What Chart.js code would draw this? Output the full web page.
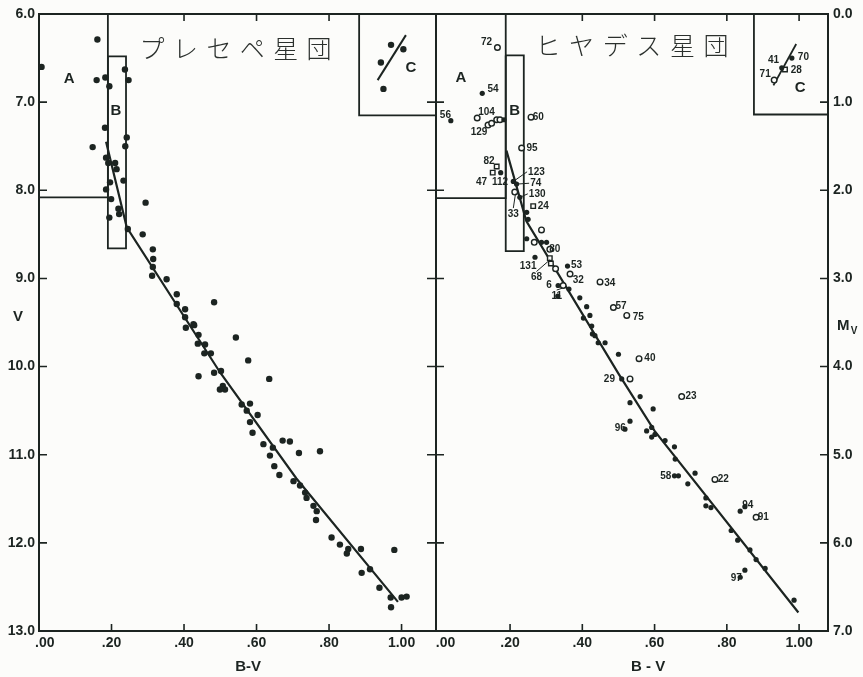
<!DOCTYPE html>
<html><head><meta charset="utf-8">
<script src="https://cdn.jsdelivr.net/npm/chart.js@4.4.1/dist/chart.umd.min.js"></script>
<style>
html,body{margin:0;padding:0;background:#fcfcfa;}
#wrap{position:relative;width:863px;height:677px;overflow:hidden;}
canvas{position:absolute;left:0;top:0;}
</style></head><body>
<div id="wrap"><canvas id="c1" width="863" height="677"></canvas><canvas id="c2" width="863" height="677"></canvas></div>
<script>
// ---------- tick values / labels ----------
const bvTicks = [0, 0.2, 0.4, 0.6, 0.8, 1.0];
const bvTickLabels = ['.00', '.20', '.40', '.60', '.80', '1.00'];
const vTicks = [6, 7, 8, 9, 10, 11, 12, 13];
const mvTicks = [0, 1, 2, 3, 4, 5, 6, 7];
const titlePraesepe = 'プレセペ星団';
const titleHyades = 'ヒヤデス星団';

// ---------- Praesepe (V vs B-V) ----------
const praesepeStars = [
  [0.161,6.29],[0.007,6.60],[0.159,6.75],[0.183,6.72],[0.194,6.82],[0.237,6.63],[0.247,6.75],
  [0.182,7.29],[0.242,7.40],[0.238,7.50],[0.148,7.51],[0.185,7.63],[0.191,7.69],[0.210,7.69],
  [0.214,7.76],[0.233,7.89],[0.185,7.99],[0.196,7.91],[0.199,8.10],[0.219,8.21],[0.221,8.27],
  [0.194,8.31],[0.294,8.14],[0.245,8.44],[0.286,8.50],[0.314,8.67],[0.315,8.78],[0.314,8.87],
  [0.312,8.97],[0.352,9.01],[0.380,9.18],[0.380,9.29],[0.403,9.35],[0.403,9.44],[0.426,9.52],
  [0.405,9.56],[0.483,9.27],[0.543,9.67],[0.428,9.53],[0.440,9.64],[0.438,9.74],[0.458,9.75],
  [0.456,9.85],[0.474,9.85],[0.577,9.93],[0.440,10.11],[0.483,10.07],[0.502,10.05],[0.635,10.14],
  [0.507,10.22],[0.513,10.26],[0.499,10.26],[0.559,10.43],[0.582,10.42],[0.573,10.50],[0.603,10.55],
  [0.582,10.63],[0.589,10.75],[0.619,10.88],[0.645,10.92],[0.637,11.01],[0.672,10.84],[0.692,10.85],
  [0.717,10.98],[0.775,10.96],[0.649,11.13],[0.663,11.23],[0.702,11.30],[0.720,11.35],[0.734,11.43],
  [0.738,11.49],[0.757,11.58],[0.766,11.64],[0.764,11.74],[0.807,11.94],[0.830,12.02],[0.853,12.07],
  [0.849,12.12],[0.888,12.07],[0.890,12.34],[0.913,12.30],[0.939,12.51],[0.970,12.62],[0.971,12.73],
  [1.000,12.62],[1.014,12.61],[0.980,12.08]
];
const praesepeCStars = [[0.971,6.35],[1.005,6.40],[0.943,6.55],[0.950,6.85]];
const praesepeCLine = [[1.012,6.24],[0.934,6.75]];
const praesepeZAMS = [[0.185,7.45],[0.242,8.42],[0.50,10.07],[0.71,11.27],[0.99,12.67]];
const praesepeRegionA = [[0,8.08],[0.19,8.08],[0.19,6.0]];
const praesepeRegionB = [[0.19,6.48],[0.24,6.48],[0.24,8.66],[0.19,8.66],[0.19,6.48]];
const praesepeRegionC = [[0.883,6.0],[0.883,7.15],[1.095,7.15]];
const praesepeRegionLabels = [['A',0.083,6.74],['B',0.212,7.10],['C',1.026,6.61]];

// ---------- Hyades (Mv vs B-V) ----------
const hyadesFilled = [
  [0.123,0.90],[0.036,1.21],[0.183,1.20],[0.174,1.80],[0.209,1.90],[0.218,1.93],[0.227,2.08],
  [0.246,2.25],[0.250,2.33],[0.246,2.55],[0.287,2.59],[0.301,2.59],[0.269,2.76],[0.359,2.86],
  [0.333,3.08],[0.363,3.12],[0.332,3.20],[0.393,3.22],[0.412,3.32],[0.421,3.42],[0.403,3.45],
  [0.426,3.54],[0.428,3.63],[0.435,3.65],[0.444,3.73],[0.463,3.73],[0.500,3.86],[0.509,4.14],
  [0.560,4.34],[0.532,4.41],[0.596,4.48],[0.532,4.62],[0.518,4.71],[0.592,4.69],[0.578,4.73],
  [0.601,4.77],[0.592,4.80],[0.629,4.84],[0.655,4.91],[0.657,5.05],[0.666,5.24],[0.655,5.24],
  [0.712,5.21],[0.692,5.33],[0.742,5.49],[0.742,5.58],[0.756,5.60],[0.837,5.64],[0.850,5.59],
  [0.812,5.86],[0.830,5.97],[0.864,6.08],[0.881,6.19],[0.906,6.29],[0.837,6.39],[0.850,6.31],
  [0.986,6.65],[0.980,0.50],[0.952,0.61]
];
const hyadesOpen = [
  [0.165,0.38],[0.109,1.18],[0.139,1.26],[0.149,1.24],[0.163,1.20],[0.172,1.20],[0.258,1.17],
  [0.232,1.52],[0.213,2.02],[0.287,2.45],[0.267,2.59],[0.310,2.67],[0.326,2.89],[0.366,2.95],
  [0.449,3.04],[0.347,3.08],[0.486,3.33],[0.523,3.42],[0.557,3.91],[0.532,4.14],[0.675,4.34],
  [0.767,5.28],[0.881,5.71],[0.931,0.75]
];
const hyadesSquares = [[0.163,1.73],[0.152,1.80],[0.264,2.18],[0.310,2.77],[0.313,2.83],[0.961,0.63]];
const hyadesCLine = [[0.992,0.34],[0.929,0.81]];
const hyadesZAMS = [[0.19,1.55],[0.245,2.35],[0.50,4.08],[0.60,4.73],[0.998,6.79]];
const hyadesRegionA = [[-0.005,2.09],[0.188,2.09],[0.188,0]];
const hyadesRegionB = [[0.188,0.47],[0.238,0.47],[0.238,2.69],[0.188,2.69],[0.188,0.47]];
const hyadesRegionC = [[0.875,0],[0.875,1.14],[1.08,1.14]];
const hyadesRegionLabels = [['A',0.064,0.73],['B',0.213,1.10],['C',1.003,0.84]];
// star number labels: [text, labelBV, labelMv, leaderToBV, leaderToMv]
const hyadesStarLabels = [
  ['72',0.135,0.32],['54',0.153,0.85],['56',0.021,1.15],['104',0.135,1.12],['129',0.114,1.34],
  ['60',0.278,1.17],['95',0.261,1.52],['82',0.142,1.67],['47',0.121,1.91],['112',0.172,1.91],
  ['123',0.273,1.79,0.209,1.90],['74',0.271,1.92,0.218,1.93],['130',0.275,2.04,0.227,2.08],
  ['24',0.292,2.18],['33',0.209,2.27,0.215,2.04],['80',0.324,2.67],['131',0.250,2.86],
  ['68',0.273,2.99,0.310,2.79],['6',0.308,3.08],['11',0.329,3.20,0.345,3.11],['53',0.384,2.85],
  ['32',0.389,3.02],['34',0.476,3.05],['57',0.507,3.32],['75',0.555,3.44],['40',0.587,3.90],
  ['29',0.475,4.14],['23',0.701,4.34],['96',0.505,4.70],['58',0.631,5.24],['22',0.790,5.28],
  ['94',0.858,5.57],['91',0.901,5.71],['97',0.826,6.40],
  ['41',0.929,0.53],['70',1.012,0.49],['28',0.992,0.64],['71',0.906,0.68]
];

// ---------- styling ----------
const ink = '#1c2421';
const pts = a => a.map(p => ({x: p[0], y: p[1]}));

const panelPlugin = {
  id: 'panel',
  afterDraw(chart, args, o) {
    const ctx = chart.ctx, ca = chart.chartArea, xs = chart.scales.x, ys = chart.scales.y;
    const X = v => xs.getPixelForValue(v), Y = v => ys.getPixelForValue(v);
    ctx.save();
    ctx.strokeStyle = ink; ctx.lineWidth = 2;
    ctx.strokeRect(ca.left, ca.top, ca.right - ca.left, ca.bottom - ca.top);
    ctx.lineWidth = 1.6;
    ctx.beginPath();
    o.bottomTicks.forEach(v => { ctx.moveTo(X(v), ca.bottom); ctx.lineTo(X(v), ca.bottom - 7); });
    o.topTicks.forEach(v => { ctx.moveTo(X(v), ca.top); ctx.lineTo(X(v), ca.top + 7); });
    o.leftTicks.forEach(v => { ctx.moveTo(ca.left - o.leftOut, Y(v)); ctx.lineTo(ca.left + 8, Y(v)); });
    o.rightTicks.forEach(v => { ctx.moveTo(ca.right, Y(v)); ctx.lineTo(ca.right - 8, Y(v)); });
    ctx.stroke();
    // panel title (Japanese), spaced characters
    ctx.fillStyle = '#2b302d';
    ctx.font = '300 25px "Noto Sans CJK JP"';
    ctx.textAlign = 'center'; ctx.textBaseline = 'middle';
    [...o.title].forEach((ch, i) => ctx.fillText(ch, X(o.titleAt[0] + i * o.titleStep), Y(o.titleAt[1])));
    // region labels
    ctx.fillStyle = ink;
    ctx.font = 'bold 15px "Liberation Sans", Arial, sans-serif';
    o.regionLabels.forEach(t => ctx.fillText(t[0], X(t[1]), Y(t[2])));
    // axis titles
    ctx.font = 'bold 15px "Liberation Sans", Arial, sans-serif';
    ctx.fillText(o.xTitle, X(o.xTitleAt[0]), Y(o.xTitleAt[1]));
    ctx.fillText(o.yTitle, X(o.yTitleAt[0]), Y(o.yTitleAt[1]));
    if (o.yTitleSub) {
      ctx.font = 'bold 10px "Liberation Sans", Arial, sans-serif';
      ctx.fillText(o.yTitleSub, X(o.yTitleAt[0]) + 11, Y(o.yTitleAt[1]) + 5);
    }
    // star number labels
    ctx.font = 'bold 10px "Liberation Sans Narrow", "Liberation Sans", Arial, sans-serif';
    ctx.lineWidth = 1;
    (o.starLabels || []).forEach(t => {
      const lx = X(t[1]), ly = Y(t[2]);
      ctx.fillText(t[0], lx, ly);
      if (t.length > 3) {
        const w = ctx.measureText(t[0]).width / 2 + 1;
        const tx = X(t[3]), ty = Y(t[4]);
        let sx = lx, sy = ly;
        if (Math.abs(tx - lx) > Math.abs(ty - ly)) sx = lx + (tx < lx ? -w : w);
        else sy = ly + (ty < ly ? -6 : 6);
        ctx.beginPath(); ctx.moveTo(sx, sy); ctx.lineTo(tx, ty); ctx.stroke();
      }
    });
    ctx.restore();
  }
};

function filledSet(data, r) {
  return { data: pts(data), pointStyle: 'circle', pointRadius: r, backgroundColor: ink, borderColor: ink, borderWidth: 0, showLine: false };
}
function openSet(data, style, r) {
  return { data: pts(data), pointStyle: style, pointRadius: r, backgroundColor: '#fcfcfa', borderColor: ink, borderWidth: 1.4, showLine: false };
}
function lineSet(data, w) {
  return { data: pts(data), showLine: true, pointRadius: 0, borderColor: ink, borderWidth: w, fill: false, tension: 0 };
}

function tickFont() { return { family: '"Liberation Sans", Arial, sans-serif', size: 14, weight: 'bold' }; }

function makeChart(id, cfg) {
  return new Chart(document.getElementById(id), {
    type: 'scatter',
    data: { datasets: cfg.datasets },
    options: {
      responsive: false, animation: false, devicePixelRatio: 1,
      layout: { padding: cfg.padding },
      plugins: { legend: { display: false }, tooltip: { enabled: false }, panel: cfg.panel },
      scales: {
        x: {
          type: 'linear', min: cfg.xMin, max: cfg.xMax,
          grid: { display: false, drawTicks: false }, border: { display: false },
          afterBuildTicks: s => { s.ticks = bvTicks.map(v => ({ value: v })); },
          afterFit: s => { s.height = 46; },
          ticks: { autoSkip: false, maxRotation: 0, padding: 4, color: ink, font: tickFont(),
                   callback: v => { const i = bvTicks.indexOf(v); return i === 0 ? cfg.zeroLabel : bvTickLabels[i]; } }
        },
        y: {
          type: 'linear', position: cfg.yPos, reverse: true, min: cfg.yTicks[0], max: cfg.yTicks[cfg.yTicks.length - 1],
          grid: { display: false, drawTicks: false }, border: { display: false },
          afterBuildTicks: s => { s.ticks = cfg.yTicks.map(v => ({ value: v })); },
          afterFit: s => { s.width = cfg.yWidth; },
          ticks: { autoSkip: false, padding: cfg.yPad, color: ink, font: tickFont(), callback: v => v.toFixed(1) }
        }
      }
    },
    plugins: [panelPlugin]
  });
}

makeChart('c1', {
  padding: { left: 0, right: 863 - 436, top: 14, bottom: 0 },
  xMin: 0, xMax: 1.095, yPos: 'left', yTicks: vTicks, yWidth: 39, yPad: 4,
  zeroLabel: '   ' + bvTickLabels[0],
  datasets: [
    filledSet(praesepeStars, 3.2),
    filledSet(praesepeCStars, 3.2),
    lineSet(praesepeZAMS, 2.2),
    lineSet(praesepeCLine, 2),
    lineSet(praesepeRegionA, 1.8),
    lineSet(praesepeRegionB, 1.8),
    lineSet(praesepeRegionC, 1.8)
  ],
  panel: {
    bottomTicks: [0.2, 0.4, 0.6, 0.8, 1.0], topTicks: [0.4, 0.6, 0.8],
    leftTicks: [7, 8, 9, 10, 11, 12], leftOut: 0, rightTicks: [],
    title: titlePraesepe, titleAt: [0.312, 6.39], titleStep: 0.0921,
    regionLabels: praesepeRegionLabels,
    xTitle: 'B-V', xTitleAt: [0.577, 13.41], yTitle: 'V', yTitleAt: [-0.058, 9.44]
  }
});

makeChart('c2', {
  padding: { left: 436, right: 0, top: 14, bottom: 0 },
  xMin: -0.005, xMax: 1.08, yPos: 'right', yTicks: mvTicks, yWidth: 35, yPad: 5,
  zeroLabel: '    ' + bvTickLabels[0],
  datasets: [
    filledSet(hyadesFilled, 2.6),
    openSet(hyadesOpen, 'circle', 2.8),
    openSet(hyadesSquares, 'rect', 3.2),
    lineSet(hyadesZAMS, 2.2),
    lineSet(hyadesCLine, 1.8),
    lineSet(hyadesRegionA, 1.8),
    lineSet(hyadesRegionB, 1.8),
    lineSet(hyadesRegionC, 1.8)
  ],
  panel: {
    bottomTicks: [0.2, 0.4, 0.6, 0.8, 1.0], topTicks: [0.4, 0.6, 0.8, 1.0],
    leftTicks: [1, 2, 3, 4, 5, 6], leftOut: 9, rightTicks: [1, 2, 3, 4, 5, 6],
    title: titleHyades, titleAt: [0.305, 0.363], titleStep: 0.093,
    regionLabels: hyadesRegionLabels, starLabels: hyadesStarLabels,
    xTitle: 'B - V', xTitleAt: [0.582, 7.41], yTitle: 'M', yTitleAt: [1.122, 3.54], yTitleSub: 'V'
  }
});
</script>
</body></html>
